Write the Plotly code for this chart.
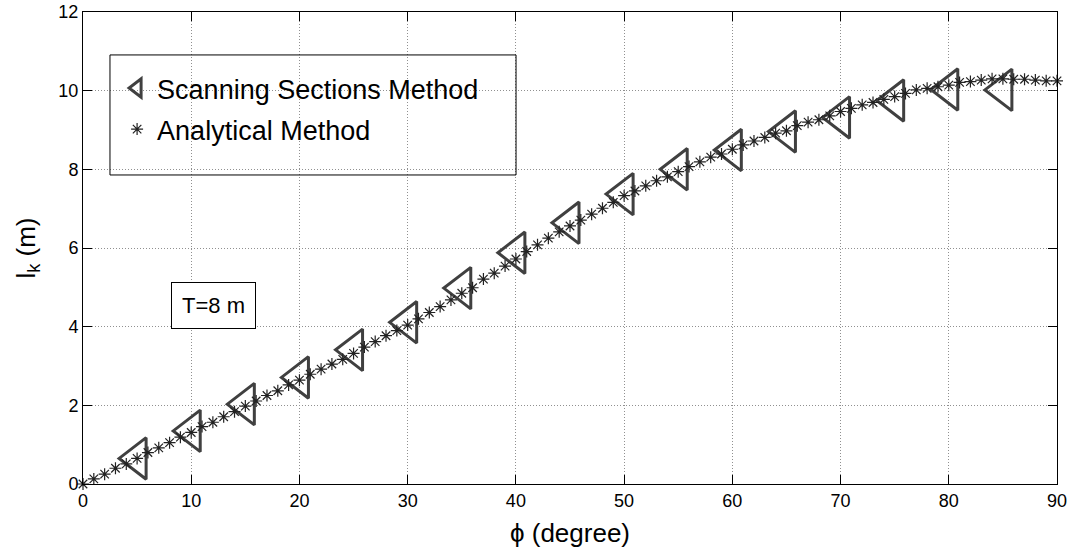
import plotly.graph_objects as go

# Scanning Sections Method (every 5 degrees)
phi_scan = [5, 10, 15, 20, 25, 30, 35, 40, 45, 50, 55, 60, 65, 70, 75, 80, 85]
lk_scan = [0.65, 1.35, 2.03, 2.71, 3.41, 4.11, 4.98, 5.88, 6.64, 7.37,
           8.00, 8.49, 8.96, 9.32, 9.75, 10.03, 10.02]

# Analytical Method (every degree, 0..90)
phi_an = list(range(0, 91))
lk_an = [0.00, 0.13, 0.25, 0.40, 0.51, 0.65, 0.80, 0.92, 1.05, 1.19,
         1.31, 1.46, 1.57, 1.71, 1.84, 1.98, 2.11, 2.25, 2.37, 2.52,
         2.64, 2.79, 2.92, 3.05, 3.17, 3.32, 3.48, 3.62, 3.77, 3.90,
         4.04, 4.20, 4.36, 4.51, 4.68, 4.85, 4.99, 5.21, 5.36, 5.54,
         5.72, 5.91, 6.08, 6.25, 6.41, 6.56, 6.71, 6.86, 7.01, 7.16,
         7.33, 7.45, 7.58, 7.71, 7.81, 7.94, 8.07, 8.19, 8.31, 8.39,
         8.51, 8.62, 8.72, 8.81, 8.92, 8.98, 9.11, 9.20, 9.26, 9.36,
         9.47, 9.55, 9.64, 9.70, 9.78, 9.85, 9.93, 10.02, 10.06, 10.10,
         10.14, 10.21, 10.23, 10.27, 10.30, 10.30, 10.29, 10.29, 10.27, 10.25,
         10.25]

x_ticks = [0, 10, 20, 30, 40, 50, 60, 70, 80, 90]
y_ticks = [0, 2, 4, 6, 8, 10, 12]

FONT = "Liberation Sans, Arial, sans-serif"

fig = go.Figure()
fig.add_trace(go.Scatter(
    x=phi_scan, y=lk_scan, mode="markers", name="Scanning Sections Method",
    legendgroup="a",
    marker=dict(symbol="triangle-left-open", size=36, color="#404040",
                line=dict(width=3, color="#404040")),
    cliponaxis=False,
))
fig.add_trace(go.Scatter(
    x=phi_an, y=lk_an, mode="markers", name="Analytical Method",
    legendgroup="b",
    marker=dict(symbol="asterisk-open", size=10, color="#222222",
                line=dict(width=1.2, color="#222222")),
    cliponaxis=False,
))

axis_common = dict(
    showline=True, linecolor="black", linewidth=1, mirror="ticks",
    ticks="inside", ticklen=9, tickcolor="black", tickwidth=1,
    showgrid=True, gridcolor="#909090", gridwidth=1, griddash="1px,2px",
    zeroline=False, automargin=False, ticklabeloverflow="allow",
    tickfont=dict(size=18, color="black", family=FONT),
)

fig.update_xaxes(range=[0, 90], tickvals=x_ticks, **axis_common,
                 title=dict(text="\u03d5 (degree)", font=dict(size=26, color="black", family=FONT)))
fig.update_yaxes(range=[0, 12], tickvals=y_ticks, **axis_common,
                 title=dict(text="l<sub>k</sub> (m)", font=dict(size=26, color="black", family=FONT)))

# legend frame
fig.add_shape(type="rect", xref="paper", yref="paper",
              x0=0.0277, x1=0.4446, y0=0.6547, y1=0.909,
              line=dict(color="black", width=1), fillcolor="rgba(0,0,0,0)")

fig.add_annotation(x=12.06, y=4.55, xref="x", yref="y", text="T=8 m",
                   showarrow=False, font=dict(size=22, color="black", family=FONT),
                   bgcolor="white", bordercolor="black", borderwidth=1, borderpad=10)

fig.update_layout(
    width=1070, height=548,
    margin=dict(l=83, r=13, t=12, b=64, autoexpand=False),
    paper_bgcolor="white", plot_bgcolor="white",
    font=dict(family=FONT, color="black"),
    showlegend=True,
    legend=dict(x=0.035, y=0.89, xanchor="left", yanchor="top",
                bgcolor="rgba(0,0,0,0)", borderwidth=0,
                font=dict(size=27, color="black", family=FONT),
                traceorder="grouped", tracegroupgap=3, itemsizing="trace"),
)

# remove the browser's default 8px body margin so the figure fills the window
fig.write_html("out.html", config={"displayModeBar": False},
               post_script="document.body.style.margin='0';")
